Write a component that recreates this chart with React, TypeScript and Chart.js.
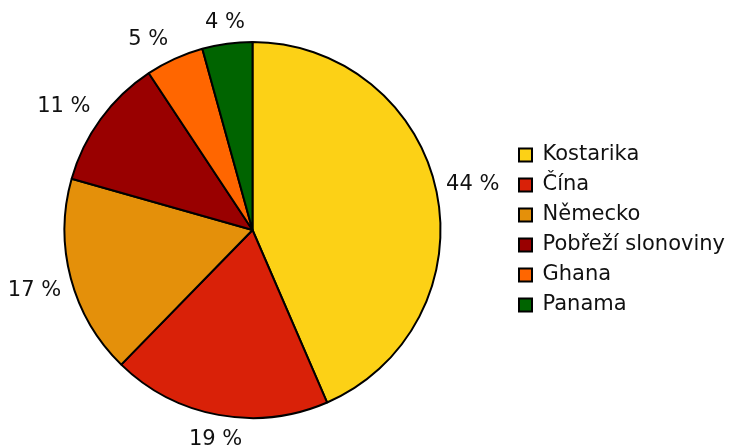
import React, { useEffect, useRef } from "react";
import { Chart, registerables } from "chart.js";

Chart.register(...registerables);

const categories = ["Kostarika", "Čína", "Německo", "Pobřeží slonoviny", "Ghana", "Panama"];
const shares = [43.5, 18.8, 17.1, 11.3, 5.0, 4.3];
const colors = ["#FCD116", "#D92108", "#E4900A", "#990000", "#FF6600", "#006400"];

const FONT = "DejaVu Sans";

const shiftArea = {
  id: "shiftArea",
  afterLayout(chart: any) {
    chart.chartArea.right -= 5;
    chart.chartArea.width = chart.chartArea.right - chart.chartArea.left;
  },
};

const outsideLabels = {
  id: "outsideLabels",
  afterDatasetsDraw(chart: any) {
    const ctx = chart.ctx;
    const meta = chart.getDatasetMeta(0);
    const data = chart.data.datasets[0].data as number[];
    ctx.save();
    ctx.font = `21px "${FONT}"`;
    ctx.fillStyle = "#111";
    ctx.textBaseline = "alphabetic";
    const digitH = 15;
    meta.data.forEach((arc: any, i: number) => {
      const p = arc.getProps(["x", "y", "startAngle", "endAngle", "outerRadius"], true);
      const mid = (p.startAngle + p.endAngle) / 2;
      const text = `${Math.round(data[i])} %`;
      const c = Math.cos(mid);
      const s = Math.sin(mid);
      const r = p.outerRadius + 8 + 8 * Math.abs(s);
      const ax = p.x + r * c;
      const ay = p.y + r * s;
      ctx.textAlign = c > 0.3 ? "left" : c < -0.3 ? "right" : "center";
      const y = s < 0 ? ay : ay + digitH;
      ctx.fillText(text, ax, y);
    });
    ctx.restore();
  },
};

export default function App() {
  const ref = useRef<HTMLCanvasElement>(null);
  useEffect(() => {
    if (!ref.current) return;
    const chart = new Chart(ref.current, {
      type: "pie",
      data: {
        labels: categories,
        datasets: [
          {
            data: shares,
            backgroundColor: colors,
            borderColor: "#000",
            borderWidth: 2,
          },
        ],
      },
      options: {
        responsive: false,
        animation: false,
        layout: { padding: { left: 0, right: -3, top: 41, bottom: 28 } },
        plugins: {
          legend: {
            position: "right",
            labels: {
              boxWidth: 13,
              boxHeight: 13,
              padding: 9,
              color: "#111",
              font: { family: FONT, size: 21 },
            },
          },
          tooltip: { enabled: false },
        },
      },
      plugins: [shiftArea, outsideLabels],
    });
    return () => chart.destroy();
  }, []);
  return (
    <div style={{ position: "absolute", left: 0, top: 0, width: 732, height: 447, background: "#fff" }}>
      <canvas ref={ref} width={732} height={447} />
    </div>
  );
}
